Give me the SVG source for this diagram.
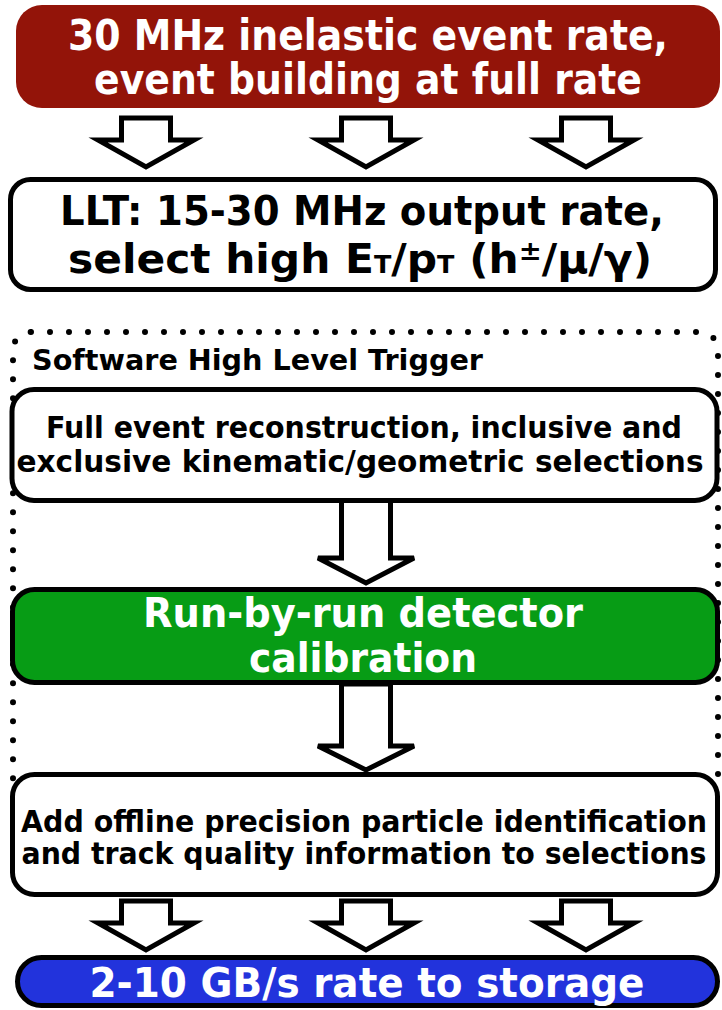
<svg xmlns="http://www.w3.org/2000/svg" width="722" height="1010" viewBox="0 0 722 1010">
  <style>
    text { font-family: "DejaVu Sans", "Liberation Sans", sans-serif; font-weight: bold; text-anchor: middle; }
    .light { fill: #ffffff; }
    .dark { fill: #000000; }
    .box { stroke: #000000; stroke-width: 5; }
    .arrow { fill: #ffffff; stroke: #000000; stroke-width: 5; stroke-linejoin: miter; }
    .hlt { fill: none; stroke: #000000; stroke-width: 6; stroke-linecap: round; stroke-dasharray: 0 19; }
  </style>
  <defs>
    <!-- hollow block arrow, tip at origin, pointing down -->
    <polygon id="blockArrow" class="arrow" points="-24.5,-49 24.5,-49 24.5,-27 48,-27 0,0 -48,-27 -24.5,-27"/>
  </defs>

  <!-- dotted frame of the software trigger stage -->
  <rect id="hlt-frame" class="hlt" x="13" y="332" width="705" height="470" rx="18"/>

  <g id="connectors">
    <use href="#blockArrow" x="146" y="167"/>
    <use href="#blockArrow" x="366" y="167"/>
    <use href="#blockArrow" x="586" y="167"/>
    <polygon class="arrow" points="341.5,499 390.5,499 390.5,558 414,558 366,583 318,558 341.5,558"/>
    <polygon class="arrow" points="341.5,684 390.5,684 390.5,746 414,746 366,770 318,746 341.5,746"/>
    <use href="#blockArrow" x="146" y="950"/>
    <use href="#blockArrow" x="366" y="950"/>
    <use href="#blockArrow" x="586" y="950"/>
  </g>

  <g id="event-building">
    <rect x="16" y="5" width="704" height="103" rx="26" fill="#931409"/>
    <text class="light" x="368" y="50" font-size="42" textLength="600" lengthAdjust="spacingAndGlyphs">30 MHz inelastic event rate,</text>
    <text class="light" x="368" y="94" font-size="42" textLength="548" lengthAdjust="spacingAndGlyphs">event building at full rate</text>
  </g>

  <g id="llt">
    <rect class="box" x="10.5" y="179.5" width="705" height="110" rx="20" fill="#ffffff"/>
    <text class="dark" x="362" y="225" font-size="40" textLength="604" lengthAdjust="spacingAndGlyphs">LLT: 15-30 MHz output rate,</text>
    <text class="dark" x="360" y="273" font-size="40" textLength="584" lengthAdjust="spacingAndGlyphs">select high E<tspan font-size="24">T</tspan>/p<tspan font-size="24">T</tspan> (h<tspan font-size="26" dy="-13">±</tspan><tspan dy="13">/μ/γ)</tspan></text>
  </g>

  <text id="hlt-label" x="32" y="370" font-size="28" style="text-anchor:start" textLength="451" lengthAdjust="spacingAndGlyphs">Software High Level Trigger</text>

  <g id="reconstruction">
    <rect class="box" x="12" y="389.5" width="705" height="111" rx="22" fill="#ffffff"/>
    <text class="dark" x="364" y="438" font-size="31" textLength="636" lengthAdjust="spacingAndGlyphs">Full event reconstruction, inclusive and</text>
    <text class="dark" x="360" y="472" font-size="31" textLength="687" lengthAdjust="spacingAndGlyphs">exclusive kinematic/geometric selections</text>
  </g>

  <g id="calibration">
    <rect class="box" x="12.5" y="589.5" width="705" height="93" rx="22" fill="#079c15"/>
    <text class="light" x="363" y="627" font-size="40" textLength="440" lengthAdjust="spacingAndGlyphs">Run-by-run detector</text>
    <text class="light" x="363" y="672" font-size="40" textLength="228" lengthAdjust="spacingAndGlyphs">calibration</text>
  </g>

  <g id="offline-pid">
    <rect class="box" x="12.5" y="774.5" width="705" height="120" rx="22" fill="#ffffff"/>
    <text class="dark" x="364" y="832" font-size="30" textLength="686" lengthAdjust="spacingAndGlyphs">Add offline precision particle identification</text>
    <text class="dark" x="364" y="864" font-size="30" textLength="685" lengthAdjust="spacingAndGlyphs">and track quality information to selections</text>
  </g>

  <g id="storage">
    <rect class="box" x="17.5" y="957.5" width="700" height="48" rx="24" fill="#2233dc"/>
    <text class="light" x="367" y="997" font-size="41" textLength="555" lengthAdjust="spacingAndGlyphs">2-10 GB/s rate to storage</text>
  </g>
</svg>
